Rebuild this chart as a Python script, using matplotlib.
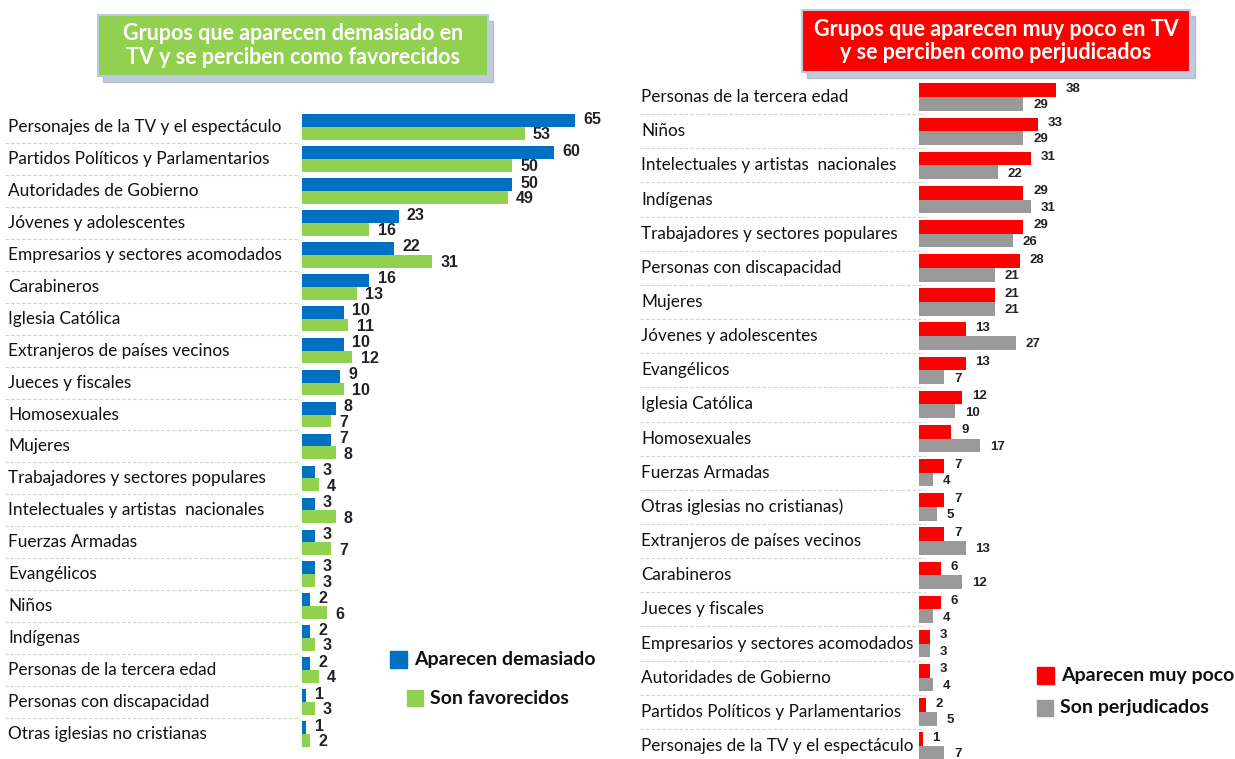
import matplotlib
matplotlib.use('Agg')
import matplotlib.pyplot as plt
from matplotlib.patches import Rectangle

# left panel: groups that appear too much / are favoured
labels_left = ['Personajes de la TV y el espectáculo', 'Partidos Políticos y Parlamentarios',
               'Autoridades de Gobierno', 'Jóvenes y adolescentes',
               'Empresarios y sectores acomodados', 'Carabineros', 'Iglesia Católica',
               'Extranjeros de países vecinos', 'Jueces y fiscales', 'Homosexuales', 'Mujeres',
               'Trabajadores y sectores populares', 'Intelectuales y artistas  nacionales',
               'Fuerzas Armadas', 'Evangélicos', 'Niños', 'Indígenas',
               'Personas de la tercera edad', 'Personas con discapacidad',
               'Otras iglesias no cristianas']
demasiado = [65, 60, 50, 23, 22, 16, 10, 10, 9, 8, 7, 3, 3, 3, 3, 2, 2, 2, 1, 1]
favorecidos = [53, 50, 49, 16, 31, 13, 11, 12, 10, 7, 8, 4, 8, 7, 3, 6, 3, 4, 3, 2]

# right panel: groups that appear too little / are harmed
labels_right = ['Personas de la tercera edad', 'Niños', 'Intelectuales y artistas  nacionales',
                'Indígenas', 'Trabajadores y sectores populares', 'Personas con discapacidad',
                'Mujeres', 'Jóvenes y adolescentes', 'Evangélicos', 'Iglesia Católica',
                'Homosexuales', 'Fuerzas Armadas', 'Otras iglesias no cristianas)',
                'Extranjeros de países vecinos', 'Carabineros', 'Jueces y fiscales',
                'Empresarios y sectores acomodados', 'Autoridades de Gobierno',
                'Partidos Políticos y Parlamentarios', 'Personajes de la TV y el espectáculo']
muy_poco = [38, 33, 31, 29, 29, 28, 21, 13, 13, 12, 9, 7, 7, 7, 6, 6, 3, 3, 2, 1]
perjudicados = [29, 29, 22, 31, 26, 21, 21, 27, 7, 10, 17, 4, 5, 13, 12, 4, 3, 4, 5, 7]

title_left = 'Grupos que aparecen demasiado en\nTV y se perciben como favorecidos'
title_right = 'Grupos que aparecen muy poco en TV\ny se perciben como perjudicados'

BLUE = '#0070C0'
GREEN = '#92D050'
RED = '#FF0000'
GRAY = '#999999'

plt.rcParams['font.family'] = ['Lato', 'DejaVu Sans']

W, H = 1235, 759
fig = plt.figure(figsize=(W / 100, H / 100), dpi=100)


def box(x0, y0, x1, y1):
    # pixel box (top-left origin) -> figure fraction rect
    return [x0 / W, 1 - y1 / H, (x1 - x0) / W, (y1 - y0) / H]


def panel(rect, xmax, ylo, labels, a, b, ca, cb, label_x, sep_x, fs_lab, fs_val, dx):
    ax = fig.add_axes(rect)
    n = len(labels)
    pos = list(range(n))
    ax.barh([p - 0.2 for p in pos], a, height=0.4, color=ca)
    ax.barh([p + 0.2 for p in pos], b, height=0.4, color=cb)
    ax.set_xlim(0, xmax)
    ax.set_ylim(ylo, -0.5)
    ax.axis('off')
    for p, va, vb in zip(pos, a, b):
        ax.annotate(str(va), (va, p - 0.2), xytext=(dx, 1), textcoords='offset points',
                    va='center', ha='left', fontsize=fs_val, fontweight='bold',
                    family='Liberation Sans', color='#222222')
        ax.annotate(str(vb), (vb, p + 0.2), xytext=(dx, -1), textcoords='offset points',
                    va='center', ha='left', fontsize=fs_val, fontweight='bold',
                    family='Liberation Sans', color='#222222')
    for p, lab in enumerate(labels):
        x_ax = (label_x - rect[0] * W) / (rect[2] * W)
        ax.text(x_ax, p, lab, transform=ax.get_yaxis_transform(), ha='left', va='center',
                fontsize=fs_lab, color='#111111', clip_on=False)
        if p < n - 1:
            x0 = (sep_x[0] - rect[0] * W) / (rect[2] * W)
            x1 = (sep_x[1] - rect[0] * W) / (rect[2] * W)
            ax.plot([x0, x1], [p + 0.5, p + 0.5], transform=ax.get_yaxis_transform(),
                    ls=(0, (3, 2)), color='#d0d0d0', lw=0.8, clip_on=False)
    return ax


# left panel: bars start at x=302, 4.2 px per unit, rows 31.95 px apart
panel(box(302, 111, 302 + 70 * 4.2, 750), 70, 19.5, labels_left, demasiado, favorecidos,
      BLUE, GREEN, 8, (5, 300), 12.4, 11.5, 6)

# right panel: bars start at x=919, 3.6 px per unit, rows 34.15 px apart
panel(box(919, 80, 919 + 45 * 3.6, 759), 45, 19 + 13 / 34.15, labels_right, muy_poco,
      perjudicados, RED, GRAY, 641, (640, 925), 12.3, 9.5, 7)


def title_box(x0, y0, x1, y1, color, text):
    fig.patches.append(Rectangle((x0 / W + 0.004, 1 - y1 / H - 0.008), (x1 - x0) / W,
                                 (y1 - y0) / H, transform=fig.transFigure,
                                 color='#9aa7bd', alpha=0.6, zorder=1))
    fig.patches.append(Rectangle((x0 / W, 1 - y1 / H), (x1 - x0) / W, (y1 - y0) / H,
                                 transform=fig.transFigure, facecolor=color,
                                 edgecolor='#b8cce4', lw=1.5, zorder=2))
    fig.text((x0 + x1) / 2 / W, 1 - (y0 + y1) / 2 / H, text, ha='center', va='center',
             color='white', fontsize=15.5, fontweight='bold', linespacing=1.15, zorder=3)


title_box(98, 15, 488, 76, GREEN, title_left)
title_box(802, 10, 1190, 72, RED, title_right)


def legend_item(x, y, size, color, text):
    fig.patches.append(Rectangle((x / W, 1 - (y + size / 2) / H), size / W, size / H,
                                 transform=fig.transFigure, color=color))
    fig.text((x + size + 7) / W, 1 - y / H, text, ha='left', va='center',
             fontsize=14, fontweight='bold', color='#111111')


legend_item(390, 659, 17, BLUE, 'Aparecen demasiado')
legend_item(407, 698, 16, GREEN, 'Son favorecidos')
legend_item(1037, 675, 17, RED, 'Aparecen muy poco')
legend_item(1037, 708, 16, GRAY, 'Son perjudicados')

fig.savefig('out.png', dpi=100)
